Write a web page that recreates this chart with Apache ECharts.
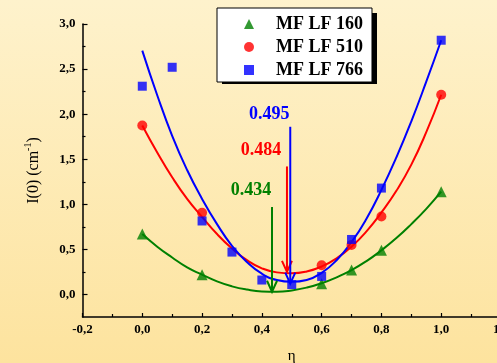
<!DOCTYPE html>
<html>
<head>
<meta charset="utf-8">
<script src="https://cdn.jsdelivr.net/npm/echarts@6/dist/echarts.min.js"></script>
<style>html,body{margin:0;padding:0;}#c{width:497px;height:363px;}</style>
</head>
<body>
<div id="c"></div>
<script>
// ---- data ----
const seriesNames = ['MF LF 160', 'MF LF 510', 'MF LF 766'];
const pts160 = [[0, 0.67], [0.2, 0.22], [0.6, 0.12], [0.7, 0.27], [0.8, 0.49], [1.0, 1.14]];
const pts510 = [[0, 1.875], [0.2, 0.905], [0.6, 0.325], [0.7, 0.55], [0.8, 0.865], [1.0, 2.215]];
const pts766 = [[0, 2.31], [0.1, 2.52], [0.2, 0.815], [0.3, 0.47], [0.4, 0.16], [0.5, 0.11], [0.6, 0.20], [0.7, 0.61], [0.8, 1.18], [1.0, 2.82]];
const fitX = [0, 0.05, 0.1, 0.15, 0.2, 0.25, 0.3, 0.35, 0.4, 0.45, 0.5, 0.55, 0.6, 0.65, 0.7, 0.75, 0.8, 0.85, 0.9, 0.95, 1.0];
const fit160 = [0.67, 0.53, 0.41, 0.30, 0.22, 0.145, 0.09, 0.054, 0.034, 0.031, 0.045, 0.076, 0.124, 0.19, 0.27, 0.37, 0.49, 0.625, 0.78, 0.95, 1.14];
const fit510 = [1.875, 1.575, 1.30, 1.06, 0.86, 0.67, 0.51, 0.38, 0.29, 0.245, 0.235, 0.255, 0.31, 0.40, 0.53, 0.70, 0.91, 1.15, 1.44, 1.80, 2.215];
const fit766 = [2.705, 2.21, 1.76, 1.38, 1.06, 0.78, 0.54, 0.36, 0.23, 0.16, 0.14, 0.16, 0.24, 0.38, 0.58, 0.84, 1.16, 1.52, 1.92, 2.36, 2.82];
const arrowLabels = ['0.434', '0.484', '0.495'];
const arrowX = [0.434, 0.484, 0.495];
const arrowTop = [0.97, 1.42, 1.86];
const arrowTip = [0.03, 0.25, 0.12];
const yMajorTicks = [0, 0.5, 1.0, 1.5, 2.0, 2.5, 3.0];
const yMinorTicks = [0.25, 0.75, 1.25, 1.75, 2.25, 2.75];

// ---- styles ----
const colors = ['#008000', '#ff0000', '#0000ff'];
const symbols = ['triangle', 'circle', 'rect'];
const symbolSizes = [11, 10, 9];
const labelOffsets = [[-21, -17], [-26, -16], [-21, -12]];
const serif = '"Liberation Serif", "Times New Roman", serif';
const fmt = v => (Math.round(v * 10) / 10).toFixed(1).replace('.', ',');

const fits = [fit160, fit510, fit766];
const pts = [pts160, pts510, pts766];

const series = [];
for (let i = 0; i < 3; i++) {
  series.push({
    name: 'fit' + i, type: 'line', smooth: 0.5, showSymbol: false, silent: true,
    data: fitX.map((x, k) => [x, fits[i][k]]),
    lineStyle: { color: colors[i], width: 2 }, z: 2
  });
}
for (let i = 0; i < 3; i++) {
  series.push({
    name: seriesNames[i], type: 'scatter', symbol: symbols[i], symbolSize: symbolSizes[i],
    data: pts[i], itemStyle: { color: colors[i] }, z: 3
  });
}
series.push({
  type: 'custom', z: 4, clip: false,
  data: arrowX.map((x, i) => [x, arrowTop[i], arrowTip[i]]),
  renderItem: function (params, api) {
    const i = params.dataIndex;
    const top = api.coord([api.value(0), api.value(1)]);
    const tip = api.coord([api.value(0), api.value(2)]);
    const c = colors[i];
    return {
      type: 'group', children: [
        { type: 'line', shape: { x1: top[0], y1: top[1], x2: tip[0], y2: tip[1] }, style: { stroke: c, lineWidth: 2 } },
        { type: 'polyline', shape: { points: [[tip[0] - 5, tip[1] - 11], [tip[0], tip[1]], [tip[0] + 5, tip[1] - 11]] }, style: { stroke: c, lineWidth: 2, fill: null } },
        { type: 'text', x: top[0] + labelOffsets[i][0], y: top[1] + labelOffsets[i][1],
          style: { text: arrowLabels[i], fill: c, font: 'bold 18px ' + serif, align: 'center', verticalAlign: 'middle' } }
      ]
    };
  }
});

const chart = echarts.init(document.getElementById('c'));
chart.setOption({
  animation: false,
  backgroundColor: { type: 'linear', x: 0, y: 0, x2: 0, y2: 1,
    colorStops: [{ offset: 0, color: '#fef2cc' }, { offset: 1, color: '#fde39e' }] },
  grid: { left: 82.5, top: 24, width: 418.5, height: 293, outerBoundsMode: 'none', containLabel: false },
  graphic: [{ type: 'rect', left: 222, top: 13, shape: { width: 155, height: 71 }, style: { fill: '#000' }, z: -1, silent: true }],
  legend: {
    orient: 'vertical', left: 217, top: 8,
    data: seriesNames.map((n, i) => ({ name: n, icon: symbols[i] })),
    itemWidth: 10, itemHeight: 10, itemGap: 1,
    padding: [5, 9, 1, 27],
    backgroundColor: '#ffffff', borderColor: '#000000', borderWidth: 1,
    textStyle: { fontFamily: serif, fontWeight: 'bold', fontSize: 18, color: '#000', lineHeight: 22, padding: [0, 0, 0, 17] }
  },
  xAxis: {
    type: 'value', min: -0.2, max: 1.2, interval: 0.2,
    name: 'η', nameLocation: 'middle', nameGap: 32,
    nameTextStyle: { fontFamily: serif, fontSize: 15, color: '#000' },
    axisLine: { onZero: false, lineStyle: { color: '#000', width: 1.5 } },
    axisTick: { inside: true, length: 4, lineStyle: { color: '#000', width: 1.2 } },
    minorTick: { show: true, splitNumber: 2, length: 3, lineStyle: { color: '#000', width: 1.2 } },
    axisLabel: { formatter: fmt, fontFamily: serif, fontWeight: 'bold', fontSize: 13, color: '#000', margin: 6 },
    splitLine: { show: false }
  },
  yAxis: [{
    type: 'value', min: -0.25, max: 3.0,
    name: 'I(0) (cm{sup|-1})', nameLocation: 'middle', nameGap: 39,
    nameTextStyle: { fontFamily: serif, fontSize: 16, color: '#000',
      rich: { sup: { fontFamily: serif, fontSize: 10, color: '#000', padding: [0, 0, 10, 0] } } },
    axisLine: { onZero: false, lineStyle: { color: '#000', width: 1.5 } },
    axisTick: { inside: true, length: 5, customValues: yMajorTicks, lineStyle: { color: '#000', width: 1.2 } },
    axisLabel: { customValues: yMajorTicks, formatter: fmt, fontFamily: serif, fontWeight: 'bold', fontSize: 13, color: '#000', margin: 7 },
    splitLine: { show: false }
  }, {
    type: 'value', min: -0.25, max: 3.0, position: 'left', offset: 0,
    axisLine: { show: false, onZero: false },
    axisTick: { inside: true, length: 3, customValues: yMinorTicks, lineStyle: { color: '#000', width: 1.2 } },
    axisLabel: { show: false },
    splitLine: { show: false }
  }],
  series: series
});
</script>
</body>
</html>
